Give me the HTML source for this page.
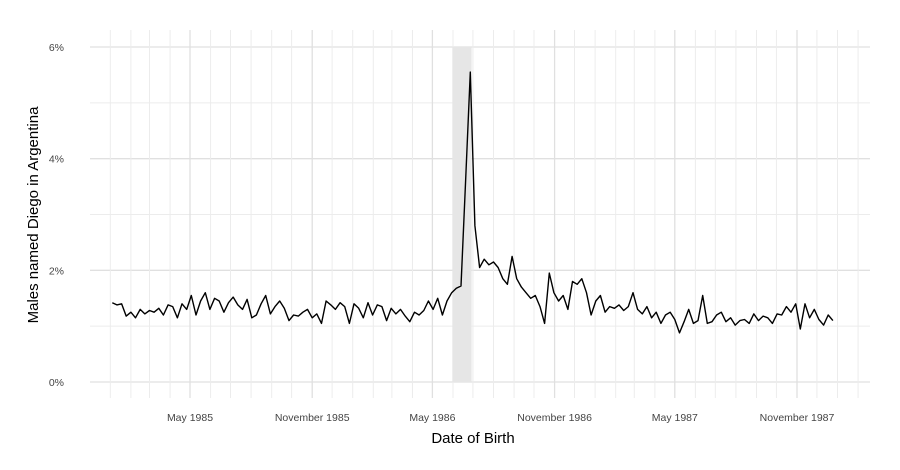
<!DOCTYPE html>
<html><head><meta charset="utf-8"><style>
body{margin:0;background:#fff;}
svg text{font-family:"Liberation Sans",sans-serif;}
</style></head><body>
<svg id="chart" width="900" height="465" xmlns="http://www.w3.org/2000/svg">
<g id="grid"></g>
<g id="shade"></g>
<g id="series"></g>
<g id="yticks"></g>
<g id="xticks"></g>
<text transform="translate(38,215) rotate(-90)" text-anchor="middle" font-size="15" fill="#000">Males named Diego in Argentina</text>
<text x="473" y="443" text-anchor="middle" font-size="15" fill="#000">Date of Birth</text>
</svg>
<script>
const startDate = "1985-01-04";
const values = [1.42,1.38,1.40,1.18,1.25,1.15,1.30,1.22,1.28,1.25,1.32,1.20,1.38,1.35,1.15,1.40,1.30,
1.55,1.20,1.45,1.60,1.30,1.50,1.45,1.25,1.42,
1.52,1.38,1.30,1.48,1.15,1.20,1.40,1.55,1.22,1.35,
1.45,1.32,1.10,1.20,1.18,1.25,1.30,1.15,1.22,1.05,
1.45,1.38,1.30,1.42,1.35,1.05,1.40,1.32,1.15,1.42,1.20,
1.38,1.35,1.10,1.32,1.22,1.30,1.18,1.08,1.25,1.20,
1.28,1.45,1.30,1.50,1.20,1.45,1.60,1.68,
1.72,3.6,5.55,2.8,
2.05,2.2,2.1,2.15,2.05,1.85,1.75,2.25,1.85,1.7,1.6,1.5,1.55,1.35,1.05,1.95,1.6,1.45,1.55,1.3,
1.8,1.75,1.85,1.6,1.2,1.45,1.55,1.25,1.35,1.32,1.38,1.28,1.35,1.60,1.30,1.22,1.35,1.15,1.25,1.05,
1.20,1.25,1.12,0.88,1.08,1.30,1.05,1.10,1.55,1.05,1.08,1.20,1.25,1.08,1.15,1.02,1.10,1.12,1.05,1.22,
1.10,1.18,1.15,1.05,1.22,1.20,1.35,1.25,1.40,0.95,1.40,1.15,1.30,1.12,1.02,1.20,1.10];
const yTicks = [0,2,4,6];
const yTickLabels = ["0%","2%","4%","6%"];
const xTickDates = ["1985-05-01","1985-11-01","1986-05-01","1986-11-01","1987-05-01","1987-11-01"];
const xTickLabels = ["May 1985","November 1985","May 1986","November 1986","May 1987","November 1987"];
const shadeRange = ["1986-05-31","1986-06-29"];

const NS="http://www.w3.org/2000/svg";
const DAY=86400000;
const ref=Date.parse("1985-05-01"), pxPerDay=(797-190)/((Date.parse("1987-11-01")-ref)/DAY);
const xS=d=>190+((typeof d==="number"?d:Date.parse(d))-ref)/DAY*pxPerDay;
const yS=v=>382-v*(382-47)/6;
const L=90,R=870,T=30,B=398;
function mk(tag,attrs,parent){const e=document.createElementNS(NS,tag);for(const k in attrs)e.setAttribute(k,attrs[k]);parent.appendChild(e);return e;}
const grid=document.getElementById('grid');
for(let v=0;v<=6;v++){
  const ln=mk('line',{x1:L,x2:R,y1:yS(v),y2:yS(v),stroke:v%2?'#ececec':'#e0e0e0','stroke-width':v%2?1:1.3},grid);
  
  
}
for(let y=1984,m=11;;){
  const d=Date.UTC(y,m,1); const x=xS(d); if(x>R)break;
  if(x>=L){const major=(m===4||m===10);
    const ln=mk('line',{x1:x,x2:x,y1:T,y2:B,stroke:major?'#e0e0e0':'#ececec','stroke-width':major?1.3:1},grid);
    
    }
  m++; if(m>11){m=0;y++;}
}
const sh=mk('rect',{x:xS(shadeRange[0]),y:yS(6),width:xS(shadeRange[1])-xS(shadeRange[0]),height:yS(0)-yS(6),fill:'#e6e6e6'},document.getElementById('shade'));


const s0=Date.parse(startDate);
const pts=values.map((v,i)=>xS(s0+i*7*DAY).toFixed(1)+','+yS(v).toFixed(1)).join(' ');
const pl=mk('polyline',{points:pts,fill:'none',stroke:'#000','stroke-width':1.4,'stroke-linejoin':'round'},document.getElementById('series'));


const yt=document.getElementById('yticks');
yTicks.forEach((v,i)=>{
  const t=mk('text',{x:64,y:yS(v)+4,'text-anchor':'end','font-size':10.5,fill:'#444'},yt);
  t.textContent=yTickLabels[i];
  
  
});
const xt=document.getElementById('xticks');
xTickDates.forEach((d,i)=>{
  const t=mk('text',{x:xS(d),y:421,'text-anchor':'middle','font-size':10.5,fill:'#444'},xt);
  t.textContent=xTickLabels[i];
  
  
});
</script>
</body></html>
